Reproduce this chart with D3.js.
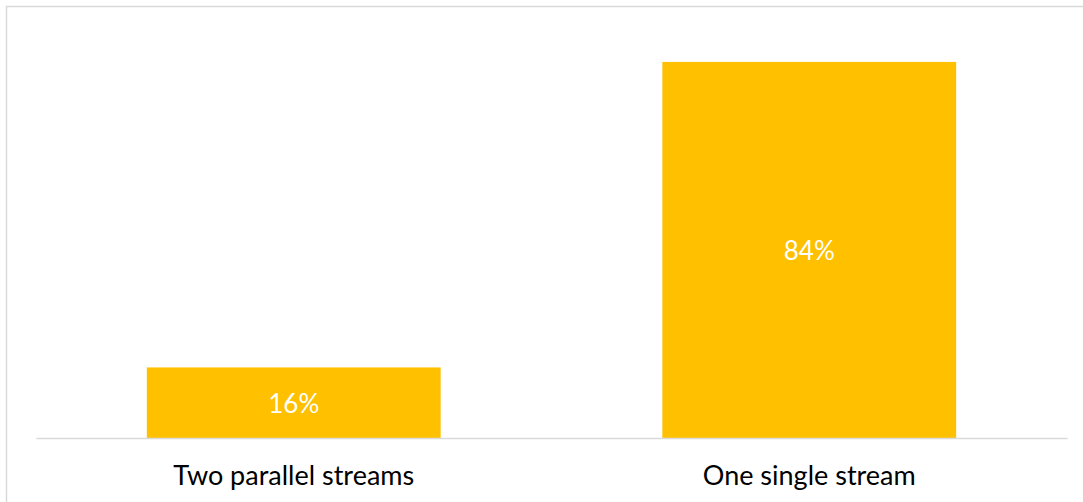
<!DOCTYPE html>
<html lang="en">
<head>
<meta charset="UTF-8">
<title>Streams</title>
<script src="https://d3js.org/d3.v7.min.js"></script>
<style>
  body { margin: 0; background: #fff; }
  text { font-family: Lato, "Open Sans", sans-serif; }
</style>
</head>
<body>
<svg id="chart" width="1083" height="502"></svg>
<script>
const categories = ["Two parallel streams", "One single stream"];
const values = [0.158, 0.842];
const valueLabels = ["16%", "84%"];

const width = 1083, height = 502;
const margin = { top: 36, right: 16, bottom: 64, left: 36 };

const svg = d3.select("#chart");

// outer frame, right/bottom edges run off the picture
svg.append("rect")
    .attr("x", 6.5).attr("y", 6.5)
    .attr("width", width + 10).attr("height", height + 10)
    .attr("fill", "none")
    .attr("stroke", "#d9d9d9")
    .attr("stroke-width", 1.5);

const x = d3.scaleBand()
    .domain(categories)
    .range([margin.left, width - margin.right])
    .paddingInner(0.43)
    .paddingOuter(0.215);

const y = d3.scaleLinear()
    .domain([0, 0.9])
    .range([height - margin.bottom, margin.top]);

svg.selectAll("rect.bar")
    .data(values)
    .join("rect")
    .attr("class", "bar")
    .attr("x", (d, i) => x(categories[i]))
    .attr("y", d => y(d))
    .attr("width", x.bandwidth())
    .attr("height", d => y(0) - y(d))
    .attr("fill", "#ffc000");

svg.selectAll("text.val")
    .data(values)
    .join("text")
    .attr("class", "val")
    .attr("x", (d, i) => x(categories[i]) + x.bandwidth() / 2)
    .attr("y", d => (y(d) + y(0)) / 2 + 1)
    .attr("dy", "0.35em")
    .attr("text-anchor", "middle")
    .attr("fill", "#fff")
    .style("font-size", "26px")
    .text((d, i) => valueLabels[i]);

const xAxis = svg.append("g")
    .attr("transform", `translate(0,${y(0)})`)
    .call(d3.axisBottom(x).tickSize(0).tickPadding(28).tickSizeOuter(0));
xAxis.select(".domain").attr("stroke", "#d9d9d9").attr("stroke-width", 1.5);
xAxis.selectAll("text")
    .attr("fill", "#000")
    .style("font-size", "27px")
    .style("font-family", "Lato, 'Open Sans', sans-serif");
</script>
</body>
</html>
